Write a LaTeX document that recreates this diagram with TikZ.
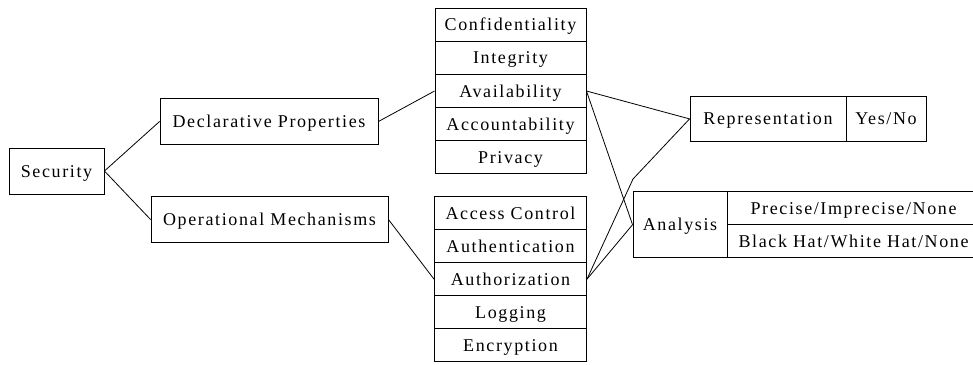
\documentclass[tikz,border=0pt]{standalone}
\usepackage{fontspec}
\setmainfont{Liberation Serif}[LetterSpace=9]
\begin{document}
\begin{tikzpicture}[x=1pt,y=-1pt,
  box/.style={draw, line width=0.9pt, inner sep=0pt, text height=12pt, text depth=0pt,
    font=\fontsize{18}{21}\selectfont},
  cell/.style={box, minimum width=151pt, minimum height=33.07pt},
  link/.style={line width=0.8pt}]
\clip (0,0) rectangle (973,364);

% root and the two branches
\node[box, minimum width=95pt, minimum height=46pt] (sec) at (56.5,171) {Security};
\node[box, minimum width=218pt, minimum height=45.5pt] (dec) at (269,121.5) {Declarative Properties};
\node[box, minimum width=237pt, minimum height=45.5pt] (op) at (269.5,219.5) {Operational Mechanisms};

% declarative properties
\node[cell] (conf)  at (510.5,24.8)  {Confidentiality};
\node[cell] (integ) at (510.5,57.9)  {Integrity};
\node[cell] (avail) at (510.5,91.0)  {Availability};
\node[cell] (acct)  at (510.5,124.0) {Accountability};
\node[cell] (priv)  at (510.5,157.1) {Privacy};

% operational mechanisms
\node[cell, minimum width=152pt, minimum height=33pt] (acc)   at (510.5,213.2) {Access Control};
\node[cell, minimum width=152pt, minimum height=33pt] (authn) at (510.5,246.2) {Authentication};
\node[cell, minimum width=152pt, minimum height=33pt] (authz) at (510.5,279.2) {Authorization};
\node[cell, minimum width=152pt, minimum height=33pt] (logg)  at (510.5,312.2) {Logging};
\node[cell, minimum width=152pt, minimum height=33pt] (encr)  at (510.5,345.2) {Encryption};

% representation
\node[box, minimum width=156pt, minimum height=45.7pt] (rep) at (768,118.9) {Representation};
\node[box, minimum width=80pt, minimum height=45.7pt] (yn) at (886,118.9) {Yes/No};

% analysis
\node[box, minimum width=94pt, minimum height=66pt] (ana) at (680,224.7) {Analysis};
\node[box, minimum width=253pt, minimum height=32.6pt] (prec) at (853.5,208) {Precise/Imprecise/None};
\node[box, minimum width=253pt, minimum height=33.4pt] (hat) at (853.5,241) {Black Hat/White Hat/None};

\coordinate (kink) at (633,179);

% connectors
\draw[link] (sec.east) -- (dec.west);
\draw[link] (sec.east) -- (op.west);
\draw[link] (dec.east) -- (avail.west);
\draw[link] (op.east) -- (authz.west);
\draw[link] (avail.east) -- (rep.west);
\draw[link] (avail.east) -- (ana.west);
\draw[link] (authz.east) -- (kink) -- (rep.west);
\draw[link] (authz.east) -- (ana.west);
\end{tikzpicture}
\end{document}
